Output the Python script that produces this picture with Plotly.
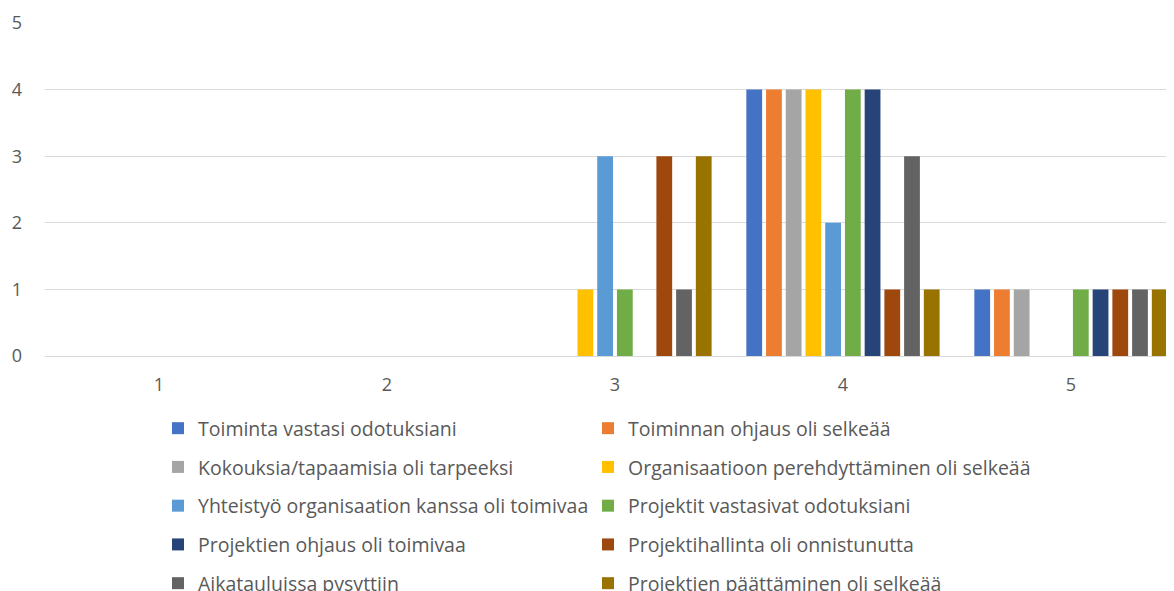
import plotly.graph_objects as go

categories = ["1", "2", "3", "4", "5"]
series_names = [
    "Toiminta vastasi odotuksiani",
    "Toiminnan ohjaus oli selkeää",
    "Kokouksia/tapaamisia oli tarpeeksi",
    "Organisaatioon perehdyttäminen oli selkeää",
    "Yhteistyö organisaation kanssa oli toimivaa",
    "Projektit vastasivat odotuksiani",
    "Projektien ohjaus oli toimivaa",
    "Projektihallinta oli onnistunutta",
    "Aikatauluissa pysyttiin",
    "Projektien päättäminen oli selkeää",
]
s1 = [0, 0, 0, 4, 1]
s2 = [0, 0, 0, 4, 1]
s3 = [0, 0, 0, 4, 1]
s4 = [0, 0, 1, 4, 0]
s5 = [0, 0, 3, 2, 0]
s6 = [0, 0, 1, 4, 1]
s7 = [0, 0, 0, 4, 1]
s8 = [0, 0, 3, 1, 1]
s9 = [0, 0, 1, 3, 1]
s10 = [0, 0, 3, 1, 1]
series_values = [s1, s2, s3, s4, s5, s6, s7, s8, s9, s10]
colors = ["#4472C4", "#ED7D31", "#A5A5A5", "#FFC000", "#5B9BD5",
          "#70AD47", "#264478", "#9E480E", "#636363", "#997300"]

W, H = 1174, 591
FONT = "Open Sans"
TXT = "#595959"

fig = go.Figure()
for i, (name, vals, col) in enumerate(zip(series_names, series_values, colors)):
    fig.add_trace(go.Bar(
        x=categories, y=vals, name=name,
        marker=dict(color=col, line=dict(width=0)),
        legend="legend" if i % 2 == 0 else "legend2",
        legendgroup=f"g{i}",
    ))

leg_common = dict(
    orientation="v", xref="container", yref="container",
    xanchor="left", yanchor="top", tracegroupgap=10.4,
    font=dict(family=FONT, size=19.5, color=TXT),
    bgcolor="rgba(0,0,0,0)", borderwidth=0, itemwidth=30,
)

fig.update_layout(
    width=W, height=H,
    margin=dict(l=37, r=0, t=15, b=243, pad=0, autoexpand=False),
    paper_bgcolor="white", plot_bgcolor="white",
    barmode="group", bargap=0.135, bargroupgap=0.2,
    font=dict(family=FONT, size=16, color=TXT),
    xaxis=dict(type="category", range=[-0.5, 4.487], showgrid=False,
               showline=False, zeroline=False, ticks="",
               tickfont=dict(family=FONT, size=18, color=TXT),
               ticklabelstandoff=16),
    yaxis=dict(range=[0, 5], dtick=1, showgrid=True, gridcolor="#D9D9D9",
               gridwidth=1, zeroline=True, zerolinecolor="#D9D9D9",
               zerolinewidth=1, showline=False, ticks="",
               tickfont=dict(family=FONT, size=18, color=TXT),
               ticklabelstandoff=22),
    legend=dict(x=150 / W, y=1 - 401 / H, **leg_common),
    legend2=dict(x=580 / W, y=1 - 401 / H, **leg_common),
)

fig.write_html("out.html")
